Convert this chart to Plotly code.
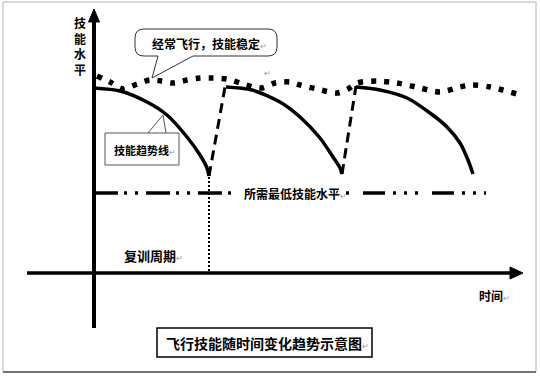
import plotly.graph_objects as go

# ---------------- data (diagram units: x = time axis px, y = skill px, downward) ----------------
# skill trend curves (three recurrent-training cycles)
trend1_x = [94, 120, 147, 167, 187, 200, 207, 209]
trend1_y = [88, 91, 102, 115, 137, 155, 168, 176]
trend2_x = [226, 252, 280, 300, 320, 333, 340, 342]
trend2_y = [87, 90, 102, 117, 138, 157, 168, 174]
trend3_x = [356, 380, 407, 430, 447, 460, 468, 473]
trend3_y = [87, 90, 98, 113, 127, 143, 160, 174]
# jumps after recurrent training (dashed)
jump1_x = [209, 225]
jump1_y = [176, 87]
jump2_x = [342, 356]
jump2_y = [174, 86]
# frequent flying: stable skill (thick dotted)
stable_x = [97, 110, 123, 137, 150, 162, 173, 187, 200, 213, 227, 240, 253, 262,
            275, 290, 300, 317, 337, 348, 357, 377, 397, 420, 440, 460, 472, 490, 517]
stable_y = [76, 82, 89, 84, 80, 81, 83, 80, 78, 78, 79, 83, 87, 88,
            83, 82, 85, 89, 93, 89, 83, 81, 83, 88, 92, 87, 85, 87, 94]
# minimum required skill level
min_level = 193
min_left_x = [94, 236]
min_right_x = [346, 486]
# recurrent training period marker
period_x = 209
period_y = [177, 272]
# axes
x_axis_y = 273
x_axis_x = [27, 512]
y_axis_x = 94
y_axis_y = [328, 19]

# labels
y_label = "技<br>能<br>水<br>平"
x_label = "时间"
bubble_text = "经常飞行，技能稳定"
trend_text = "技能趋势线"
min_text = "所需最低技能水平"
period_text = "复训周期"
title_text = "飞行技能随时间变化趋势示意图"

FONT = "Noto Sans CJK SC, Noto Sans, sans-serif"
MARK = "<span style='color:#9a9a9a;font-size:8px;font-weight:normal'>↵</span>"

fig = go.Figure()

def line(xs, ys, width, dash="solid", color="black"):
    fig.add_trace(go.Scatter(x=xs, y=ys, mode="lines", hoverinfo="skip",
                             line=dict(color=color, width=width, dash=dash)))

def spline(xs, ys, width, dash="solid"):
    fig.add_trace(go.Scatter(x=xs, y=ys, mode="lines", hoverinfo="skip",
                             line=dict(color="black", width=width, dash=dash,
                                       shape="spline", smoothing=0.8)))

# axes
line(x_axis_x, [x_axis_y, x_axis_y], 3.5)
line([y_axis_x, y_axis_x], y_axis_y, 4)
# arrowheads
fig.add_trace(go.Scatter(x=[510, 523, 510, 510], y=[x_axis_y - 6, x_axis_y, x_axis_y + 6, x_axis_y - 6],
                         mode="lines", fill="toself", fillcolor="black",
                         line=dict(color="black", width=1), hoverinfo="skip"))
fig.add_trace(go.Scatter(x=[y_axis_x - 5.5, y_axis_x, y_axis_x + 5.5, y_axis_x - 5.5], y=[22, 9, 22, 22],
                         mode="lines", fill="toself", fillcolor="black",
                         line=dict(color="black", width=1), hoverinfo="skip"))

# minimum skill level (dash-dot)
line(min_left_x, [min_level, min_level], 3.5, "24px,6px,3px,8px,3px,8px")
line(min_right_x, [min_level, min_level], 3.5, "3px,14px,22px,8px,3px,8px,3px,8px")
# period marker
line([period_x, period_x], period_y, 2, "2px,2px")

# trend curves
spline(trend1_x, trend1_y, 3.5)
spline(trend2_x, trend2_y, 3.5)
spline(trend3_x, trend3_y, 3.5)
line(jump1_x, jump1_y, 3, "10px,6px")
line(jump2_x, jump2_y, 3, "10px,6px")
# stable skill
spline(stable_x, stable_y, 5.5, "5px,8px")

shapes = []
# outer frame
shapes.append(dict(type="rect", x0=3, y0=2, x1=536, y1=372, line=dict(color="#b4b4b4", width=1)))
shapes.append(dict(type="line", x0=3, y0=372, x1=536, y1=372, line=dict(color="#555", width=1.5)))
# speech bubble
bx0, by0, bx1, by1, r = 135, 29, 277, 56, 9
bubble = (f"M {bx0+r},{by0} L {bx1-r},{by0} Q {bx1},{by0} {bx1},{by0+r} "
          f"L {bx1},{by1-r} Q {bx1},{by1} {bx1-r},{by1} L 193,{by1} L 152,78 L 158,{by1} "
          f"L {bx0+r},{by1} Q {bx0},{by1} {bx0},{by1-r} L {bx0},{by0+r} Q {bx0},{by0} {bx0+r},{by0} Z")
shapes.append(dict(type="path", path=bubble, line=dict(color="#333", width=1), fillcolor="white", layer="above"))
# trend callout
shapes.append(dict(type="rect", x0=105, y0=133, x1=179, y1=165, line=dict(color="#555", width=1), fillcolor="white", layer="above"))
shapes.append(dict(type="path", path="M 148,133 L 163,115 L 166,133", line=dict(color="#555", width=1), layer="above"))
# title box
shapes.append(dict(type="rect", x0=157, y0=328, x1=372, y1=357, line=dict(color="black", width=1.5), fillcolor="white"))
for s in shapes:
    s.update(xref="x", yref="y")

ann = []
def text(x, y, t, size, xanchor="center", bold=True):
    ann.append(dict(x=x, y=y, xref="x", yref="y", text=(f"<b>{t}</b>" if bold else t),
                    showarrow=False, xanchor=xanchor, yanchor="middle",
                    font=dict(family=FONT, size=size, color="black")))

text(80, 46, y_label, 12)
text(150, 43, bubble_text + MARK, 12, xanchor="left")
text(112, 150, trend_text + MARK, 11, xanchor="left")
text(242, 193, min_text + MARK, 12, xanchor="left")
text(122, 255, period_text + MARK, 13, xanchor="left")
text(477, 295, x_label + MARK, 12, xanchor="left")
text(164, 343, title_text + MARK, 14, xanchor="left")
text(267, 72, MARK, 8, bold=False)

fig.update_layout(
    width=540, height=376, margin=dict(l=0, r=0, t=0, b=0),
    paper_bgcolor="white", plot_bgcolor="white", showlegend=False,
    xaxis=dict(range=[0, 540], visible=False, fixedrange=True),
    yaxis=dict(range=[376, 0], visible=False, fixedrange=True),
    shapes=shapes, annotations=ann,
)
fig.write_html("out.html", config={"displayModeBar": False},
               post_script="document.body.style.margin='0';document.body.style.overflow='hidden';")
